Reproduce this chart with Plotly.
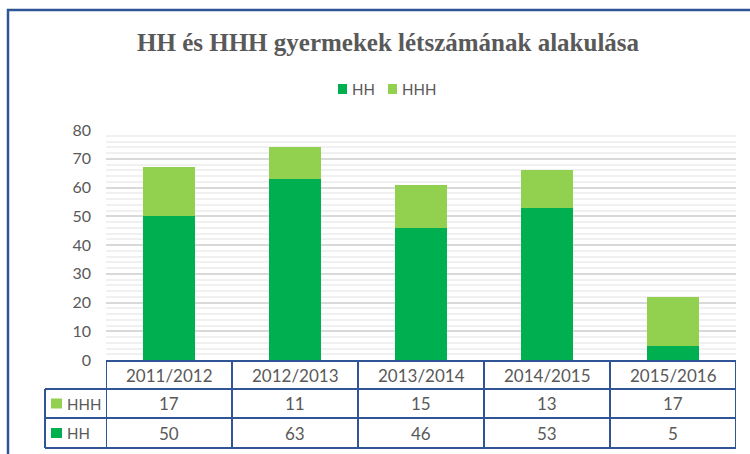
import plotly.graph_objects as go

categories = ["2011/2012", "2012/2013", "2013/2014", "2014/2015", "2015/2016"]
hh_values = [50, 63, 46, 53, 5]
hhh_values = [17, 11, 15, 13, 17]
series_names = ["HH", "HHH"]
colors = {"HH": "#00B050", "HHH": "#92D050"}
title_text = "HH és HHH gyermekek létszámának alakulása"

W, H = 750, 454
ML, MR, MT, MB = 106, 14, 130, 94
PW = W - ML - MR
PH = H - MT - MB

def px_y(py):
    return (H - MB - py) / PH

def px_x(px):
    return (px - ML) / PW

text_color = "#595959"
line_color = "#2F5597"
font_sans = "Lato, 'Open Sans', sans-serif"

fig = go.Figure()
fig.add_trace(go.Bar(x=categories, y=hh_values, name="HH", marker_color=colors["HH"],
                     width=0.405, marker_line_width=0, showlegend=False))
fig.add_trace(go.Bar(x=categories, y=hhh_values, name="HHH", marker_color=colors["HHH"],
                     width=0.405, marker_line_width=0, showlegend=False))

shapes = []
annotations = []

# outer chart border
shapes.append(dict(type="path", xref="paper", yref="paper",
                   path=f"M {px_x(8)},{px_y(470)} L {px_x(8)},{px_y(10)} L {px_x(760)},{px_y(10)}",
                   line=dict(color=line_color, width=2.5)))

n = len(categories)
row_y = [361, 389, 418, 448]
lbl_left = px_x(45)

shapes.append(dict(type="line", xref="x", yref="paper", x0=-0.5, x1=n - 0.5,
                   y0=px_y(row_y[0]), y1=px_y(row_y[0]), line=dict(color=line_color, width=2)))
for ry in row_y[1:]:
    shapes.append(dict(type="line", xref="paper", yref="paper", x0=lbl_left, x1=1,
                       y0=px_y(ry), y1=px_y(ry), line=dict(color=line_color, width=2)))
for i in range(n + 1):
    shapes.append(dict(type="line", xref="x", yref="paper", x0=i - 0.5, x1=i - 0.5,
                       y0=px_y(row_y[0]), y1=px_y(row_y[3]), line=dict(color=line_color, width=2)))
shapes.append(dict(type="line", xref="paper", yref="paper", x0=lbl_left, x1=lbl_left,
                   y0=px_y(row_y[1]), y1=px_y(row_y[3]), line=dict(color=line_color, width=2)))

for c in categories:
    annotations.append(dict(x=c, y=px_y((row_y[0] + row_y[1]) / 2), xref="x", yref="paper",
                            text=c, showarrow=False, font=dict(family=font_sans, size=17, color=text_color),
                            xanchor="center", yanchor="middle"))
rows = [("HHH", hhh_values), ("HH", hh_values)]
for r, (name, vals) in enumerate(rows):
    yc = (row_y[r + 1] + row_y[r + 2]) / 2
    for c, v in zip(categories, vals):
        annotations.append(dict(x=c, y=px_y(yc), xref="x", yref="paper", text=str(v), showarrow=False,
                                font=dict(family=font_sans, size=17, color=text_color),
                                xanchor="center", yanchor="middle"))
    shapes.append(dict(type="rect", xref="paper", yref="paper", x0=px_x(51), x1=px_x(62),
                       y0=px_y(yc + 5), y1=px_y(yc - 5), fillcolor=colors[name], line_width=0))
    annotations.append(dict(x=px_x(65), y=px_y(yc), xref="paper", yref="paper", text=name, showarrow=False,
                            font=dict(family=font_sans, size=15, color=text_color),
                            xanchor="left", yanchor="middle"))

# manual legend
legend_pos = {"HH": 338, "HHH": 388}
for name in series_names:
    x0 = legend_pos[name]
    shapes.append(dict(type="rect", xref="paper", yref="paper", x0=px_x(x0), x1=px_x(x0 + 9),
                       y0=px_y(94), y1=px_y(84), fillcolor=colors[name], line_width=0))
    annotations.append(dict(x=px_x(x0 + 12), y=px_y(89), xref="paper", yref="paper", text=name,
                            showarrow=False, font=dict(family=font_sans, size=15, color=text_color),
                            xanchor="left", yanchor="middle"))

annotations.append(dict(x=px_x(388), y=px_y(42), xref="paper", yref="paper",
                        text="<b>" + title_text + "</b>", showarrow=False,
                        font=dict(family="'Liberation Serif', 'DejaVu Serif', serif", size=25, color=text_color),
                        xanchor="center", yanchor="middle"))

fig.update_layout(
    width=W, height=H,
    margin=dict(l=ML, r=MR, t=MT, b=MB, autoexpand=False),
    paper_bgcolor="white", plot_bgcolor="white",
    barmode="stack",
    showlegend=False,
    shapes=shapes,
    annotations=annotations,
    xaxis=dict(showticklabels=False, showgrid=False, zeroline=False, showline=False, ticks="",
               range=[-0.5, n - 0.5], automargin=False),
    yaxis=dict(range=[0, 80], dtick=10, showgrid=True, gridcolor="#D9D9D9", gridwidth=1.5,
               zeroline=False, showline=False, ticks="", automargin=False,
               tickfont=dict(family=font_sans, size=16, color=text_color),
               ticklabelstandoff=14,
               minor=dict(dtick=2, showgrid=True, gridcolor="#F0F0F0", gridwidth=1.5)),
)

fig.write_html("out.html", config={"displayModeBar": False},
               post_script="document.body.style.margin='0';document.body.style.overflow='hidden';")
